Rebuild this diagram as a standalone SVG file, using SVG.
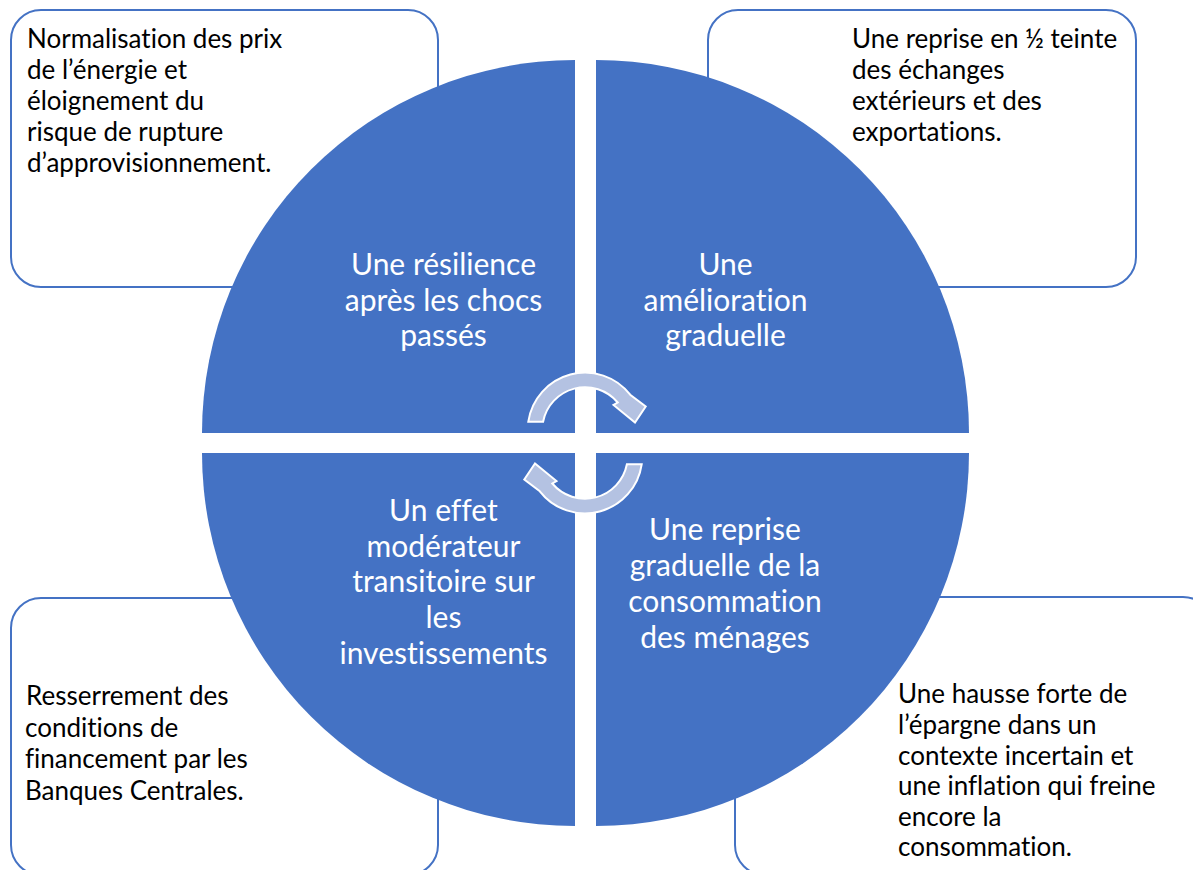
<svg xmlns="http://www.w3.org/2000/svg" xmlns:xlink="http://www.w3.org/1999/xlink" width="1193" height="870" viewBox="0 0 1193 870">
<style>
.box{fill:#FFFFFF;stroke:#4472C4;stroke-width:2}
.quad{fill:#4472C4}
.bt{font-family:Lato,"Open Sans",sans-serif;font-size:26px;fill:#000000;font-variant-ligatures:none;font-feature-settings:"liga" 0,"clig" 0,"dlig" 0,"calt" 0}
.qt{font-family:Lato,"Open Sans",sans-serif;font-size:30px;fill:#FFFFFF;text-anchor:middle;font-variant-ligatures:none;font-feature-settings:"liga" 0,"clig" 0,"dlig" 0,"calt" 0}
.arr{fill:#B4C2E2;stroke:#FFFFFF;stroke-width:2;stroke-linejoin:miter}
</style>
<defs>
<path id="carrow" d="M528.3,421.7 A57.3,57.3 0 0 1 630.2,394.7 L645.7,406.5 L635,422.5 L613.5,405 L617.7,402.5 A42.7,42.7 0 0 0 543.1,421.7 Z"/>
</defs>
<rect width="1193" height="870" fill="#FFFFFF"/>
<g id="box-tl">
<rect class="box" x="11" y="10" width="427" height="277" rx="30"/>
<text class="bt"><tspan x="27" y="48">Normalisation des prix</tspan><tspan x="27" y="79">de l’énergie et</tspan><tspan x="27" y="110">éloignement du</tspan><tspan x="27" y="141">risque de rupture</tspan><tspan x="27" y="172">d’approvisionnement.</tspan></text>
</g>
<g id="box-tr">
<rect class="box" x="708" y="10" width="428" height="277" rx="30"/>
<text class="bt"><tspan x="852" y="48">Une reprise en ½ teinte</tspan><tspan x="852" y="79">des échanges</tspan><tspan x="852" y="110">extérieurs et des</tspan><tspan x="852" y="141">exportations.</tspan></text>
</g>
<g id="box-bl">
<rect class="box" x="11" y="598" width="427" height="277" rx="30"/>
<text class="bt"><tspan x="26" y="705">Resserrement des</tspan><tspan x="25" y="737">conditions de</tspan><tspan x="25" y="768">financement par les</tspan><tspan x="25" y="800">Banques Centrales.</tspan></text>
</g>
<g id="box-br">
<rect class="box" x="735" y="597" width="478" height="278" rx="30"/>
<text class="bt"><tspan x="898" y="703">Une hausse forte de</tspan><tspan x="898" y="734">l’épargne dans un</tspan><tspan x="898" y="765">contexte incertain et</tspan><tspan x="898" y="795">une inflation qui freine</tspan><tspan x="898" y="826">encore la</tspan><tspan x="898" y="856">consommation.</tspan></text>
</g>
<g id="quad-tl">
<path class="quad" d="M575,433 L202,433 A373,373 0 0 1 575,60 Z"/>
<text class="qt"><tspan x="443.5" y="275">Une résilience</tspan><tspan x="443.5" y="311">après les chocs</tspan><tspan x="443.5" y="346">passés</tspan></text>
</g>
<g id="quad-tr">
<path class="quad" d="M596,433 L596,60 A373,373 0 0 1 969,433 Z"/>
<text class="qt"><tspan x="725.5" y="275">Une</tspan><tspan x="725.5" y="311">amélioration</tspan><tspan x="725.5" y="346">graduelle</tspan></text>
</g>
<g id="quad-bl">
<path class="quad" d="M575,453 L575,826 A373,373 0 0 1 202,453 Z"/>
<text class="qt"><tspan x="443.5" y="521">Un effet</tspan><tspan x="443.5" y="557">modérateur</tspan><tspan x="443.5" y="592">transitoire sur</tspan><tspan x="443.5" y="628">les</tspan><tspan x="443.5" y="664">investissements</tspan></text>
</g>
<g id="quad-br">
<path class="quad" d="M596,453 L969,453 A373,373 0 0 1 596,826 Z"/>
<text class="qt"><tspan x="725" y="540">Une reprise</tspan><tspan x="725" y="576">graduelle de la</tspan><tspan x="725" y="612">consommation</tspan><tspan x="725" y="648">des ménages</tspan></text>
</g>
<g id="connectors">
<use xlink:href="#carrow" class="arr"/>
<use xlink:href="#carrow" class="arr" transform="rotate(180 585 443)"/>
</g>
</svg>
